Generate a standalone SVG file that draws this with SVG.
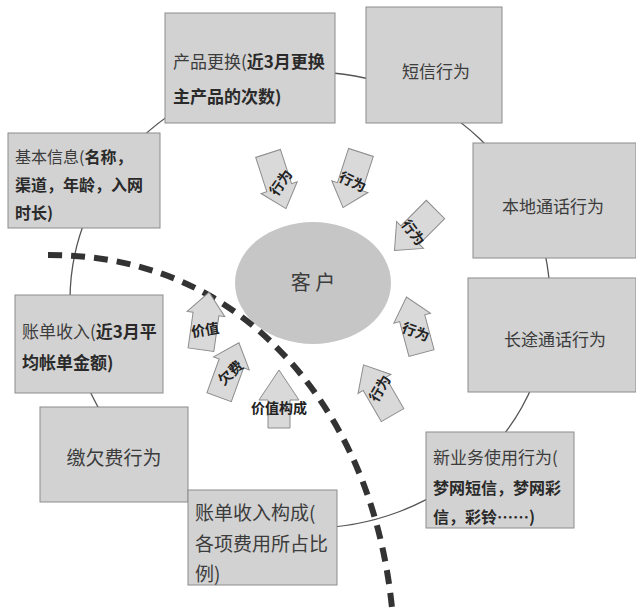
<svg xmlns="http://www.w3.org/2000/svg" width="636" height="608" viewBox="0 0 636 608">
<style>
.box{fill:#d2d2d2;stroke:#8c8c8c;stroke-width:1}
.t{font-family:"Noto Sans CJK SC","Noto Sans",sans-serif;fill:#3c3c3c}
.b{font-weight:bold;fill:#2a2a2a}
.mid{text-anchor:middle}
.arr{fill:#d9d9d9;stroke:#8c8c8c;stroke-width:1}
.at{font-family:"Noto Sans CJK SC",sans-serif;font-size:14px;font-weight:bold;fill:#222;text-anchor:middle;dominant-baseline:central}
.ring{fill:none;stroke:#555;stroke-width:1.3}
.dash{fill:none;stroke:#333;stroke-width:6;stroke-dasharray:14 9}
</style>
<defs>
<polygon id="ar" points="-29,-13 7,-13 7,-19 29,0 7,19 7,13 -29,13"/>
</defs>
<rect width="636" height="608" fill="#fff"/>
<g id="connectors">
<ellipse class="ring" cx="310" cy="300" rx="240" ry="228"/>
</g>
<g id="n-product">
<rect class="box" x="165" y="13" width="170" height="110"/>
<text class="t" font-size="17" x="173" y="68">产品更换(<tspan class="b">近3月更换</tspan></text>
<text class="t b" font-size="17" x="173" y="103">主产品的次数)</text>
</g>
<g id="n-sms">
<rect class="box" x="366" y="7" width="136" height="116"/>
<text class="t mid" font-size="17" x="436" y="78">短信行为</text>
</g>
<g id="n-basic">
<rect class="box" x="8" y="133" width="152" height="95"/>
<text class="t" font-size="16" x="15" y="163">基本信息(<tspan class="b">名称，</tspan></text>
<text class="t b" font-size="16" x="15" y="191">渠道，年龄，入网</text>
<text class="t b" font-size="16" x="15" y="219">时长)</text>
</g>
<g id="n-local">
<rect class="box" x="473" y="143" width="163" height="115"/>
<text class="t mid" font-size="17" x="553" y="213">本地通话行为</text>
</g>
<g id="n-bill">
<rect class="box" x="15" y="295" width="148" height="98"/>
<text class="t" font-size="17" x="22" y="338">账单收入(<tspan class="b">近3月平</tspan></text>
<text class="t b" font-size="17" x="22" y="369">均帐单金额)</text>
</g>
<g id="n-long">
<rect class="box" x="468" y="278" width="168" height="114"/>
<text class="t mid" font-size="17" x="555" y="346">长途通话行为</text>
</g>
<g id="n-owe">
<rect class="box" x="40" y="407" width="148" height="95"/>
<text class="t mid" font-size="19" x="114" y="465">缴欠费行为</text>
</g>
<g id="n-billcomp">
<rect class="box" x="188" y="490" width="149" height="95"/>
<text class="t" font-size="19" x="195" y="520">账单收入构成(</text>
<text class="t" font-size="19" x="195" y="551">各项费用所占比</text>
<text class="t" font-size="19" x="195" y="581">例)</text>
</g>
<g id="n-newbiz">
<rect class="box" x="426" y="432" width="148" height="96"/>
<text class="t" font-size="17" x="433" y="464">新业务使用行为(</text>
<text class="t b" font-size="16" x="433" y="494">梦网短信，梦网彩</text>
<text class="t b" font-size="16" x="433" y="523">信，彩铃……)</text>
</g>
<g id="n-customer">
<ellipse cx="313" cy="283" rx="78" ry="61" fill="#c6c6c6"/>
<text class="t mid" font-size="20" x="313" y="290">客 户</text>
</g>
<g id="divider">
<path class="dash" d="M48,255 C130,255 200,280 258,330 C318,382 378,470 392,608"/>
</g>
<g id="arrows">
<g id="a1"><use href="#ar" class="arr" transform="translate(277,181) rotate(72)"/><text class="at" transform="translate(280,182) rotate(-55)">行为</text></g>
<g id="a2"><use href="#ar" class="arr" transform="translate(352,180) rotate(108)"/><text class="at" transform="translate(353,181) rotate(25)">行为</text></g>
<g id="a3"><use href="#ar" class="arr" transform="translate(415,230) rotate(135)"/><text class="at" transform="translate(414,232) rotate(53)">行为</text></g>
<g id="a4"><use href="#ar" class="arr" transform="translate(414,325) rotate(-105)"/><text class="at" transform="translate(416,331) rotate(20)">行为</text></g>
<g id="a5"><use href="#ar" class="arr" transform="translate(378,390) rotate(-120)"/><text class="at" transform="translate(379,388) rotate(-60)">行为</text></g>
<g id="a6"><use href="#ar" class="arr" transform="translate(205,321) rotate(-82)"/><text class="at" transform="translate(205,329) rotate(-10)">价值</text></g>
<g id="a7"><use href="#ar" class="arr" transform="translate(229,370) rotate(-70)"/><text class="at" transform="translate(230,372) rotate(-43)">欠费</text></g>
<g id="a8"><polygon class="arr" points="279,370 299,400 290,400 290,428 268,428 268,400 259,400"/><text class="at" x="279" y="407" font-size="15">价值构成</text></g>
</g>
</svg>
